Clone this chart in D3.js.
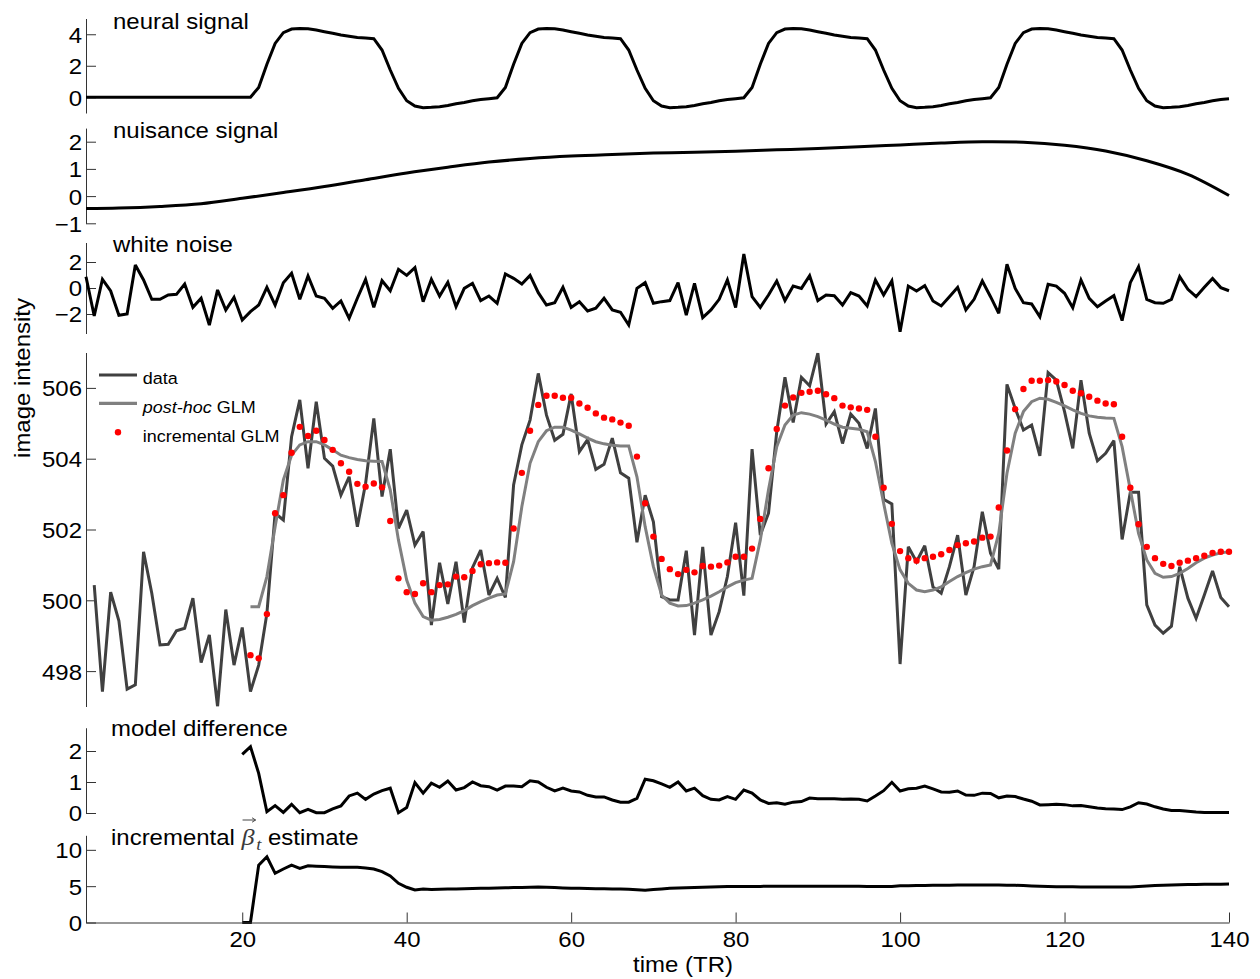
<!DOCTYPE html>
<html>
<head>
<meta charset="utf-8">
<script src="https://cdn.jsdelivr.net/npm/d3@7"></script>
<style>
  html, body { margin: 0; padding: 0; background: #fff; }
  svg { display: block; }
</style>
</head>
<body>
<svg id="fig" width="1260" height="979"></svg>
<script>
// ---------------- data (time in TR) ----------------
const neuralT = d3.range(1, 141);
const neural = [
  0,0,0,0,0,0,0,0,0,0, 0,0,0,0,0,0,0,0,0,0,
  0,0.62,2.1,3.42,4.1,4.33,4.37,4.35,4.27,4.16, 4.06,3.95,3.87,3.8,3.76,3.72,3.0,1.73,0.57,-0.22,
  -0.56,-0.66,-0.64,-0.6,-0.52,-0.41,-0.33,-0.22,-0.14,-0.09,
  -0.03,0.62,2.1,3.42,4.1,4.33,4.37,4.35,4.27,4.16, 4.06,3.95,3.87,3.8,3.76,3.72,3.0,1.73,0.57,-0.22,
  -0.56,-0.66,-0.64,-0.6,-0.52,-0.41,-0.33,-0.22,-0.14,-0.09,
  -0.03,0.62,2.1,3.42,4.1,4.33,4.37,4.35,4.27,4.16, 4.06,3.95,3.87,3.8,3.76,3.72,3.0,1.73,0.57,-0.22,
  -0.56,-0.66,-0.64,-0.6,-0.52,-0.41,-0.33,-0.22,-0.14,-0.09,
  -0.03,0.62,2.1,3.42,4.1,4.33,4.37,4.35,4.27,4.16, 4.06,3.95,3.87,3.8,3.76,3.72,3.0,1.73,0.57,-0.22,
  -0.56,-0.66,-0.64,-0.6,-0.52,-0.41,-0.33,-0.22,-0.14,-0.09
];

const nuisanceT = [1,5,10,15,20,25,30,35,40,45,50,55,60,65,70,75,80,85,90,95,100,105,110,115,120,125,130,135,140];
const nuisance = [-0.46,-0.44,-0.38,-0.28,-0.08,0.13,0.35,0.6,0.85,1.06,1.25,1.38,1.47,1.53,1.58,1.61,1.65,1.7,1.75,1.81,1.88,1.95,2.0,1.98,1.87,1.66,1.3,0.8,0.02];

const noiseT = d3.range(1, 141);
const noise = [
  0.87,-2.15,0.67,-0.23,-2.1,-2.0,1.77,0.62,-0.87,-0.87,
  -0.54,-0.49,0.31,-1.49,-0.79,-2.85,-0.15,-1.69,-0.72,-2.46,
  -1.82,-1.31,0.05,-1.31,0.41,1.13,-0.87,0.92,-0.62,-0.79,
  -1.56,-1.0,-2.33,-0.79,0.67,-1.49,0.56,-0.21,1.44,0.97,
  1.56,-1.05,0.67,-0.62,0.44,-1.44,-0.03,0.36,-0.97,-0.62,
  -1.18,1.08,0.74,0.31,0.97,-0.36,-1.31,-1.13,0.05,-1.49,
  -1.05,-1.77,-1.56,-0.79,-1.69,-1.87,-2.85,-0.03,0.41,-1.18,
  -1.05,-0.97,0.41,-2.08,0.36,-2.28,-1.69,-0.87,0.62,-1.51,
  2.62,-0.67,-1.49,-0.54,0.54,-0.97,0.15,-0.03,0.95,-0.97,
  -0.54,-0.59,-1.31,-0.36,-0.62,-1.38,0.62,-0.54,0.54,-3.36,
  0.15,-0.23,0.18,-1.0,-1.38,-0.67,0.05,-1.69,-0.87,0.54,
  -0.67,-1.95,1.82,-0.03,-1.13,-1.23,-2.21,0.28,0.15,-0.41,
  -1.51,0.62,-0.79,-1.44,-1.0,-0.59,-2.51,0.41,1.64,-0.87,
  -1.13,-1.18,-0.87,0.87,-0.10,-0.67,0.05,0.74,0.03,-0.21
];

const dataT = d3.range(2, 141);
const dataSeries = [
  500.43,497.42,500.23,499.42,497.49,497.61,501.37,500.2,498.74,498.76,
  499.14,499.21,500.06,498.24,499.02,497.0,499.74,498.17,499.23,497.42,
  498.17,499.63,502.46,502.27,504.62,505.66,503.73,505.61,504.01,503.79,
  502.97,503.49,502.08,503.3,505.14,502.93,504.27,502.03,502.55,501.56,
  501.94,499.3,501.06,499.9,501.09,499.37,500.92,501.42,500.15,500.62,
  500.08,503.26,504.39,505.09,506.41,505.23,504.52,504.69,505.83,504.2,
  504.54,503.7,503.84,504.58,503.6,503.45,501.64,502.97,502.22,500.1,
  500.01,500.01,501.4,499.02,501.51,499.02,499.68,500.67,502.19,500.13,
  504.27,501.84,502.46,504.76,506.3,505.02,506.3,506.06,506.98,504.98,
  505.33,
  504.43,505.26,505.0,504.29,505.42,502.85,502.72,498.2,501.51,501.09,
  501.54,500.38,500.2,500.95,501.84,500.15,500.95,502.5,501.33,500.88,
  506.1,505.42,504.81,504.95,504.08,506.43,506.22,505.33,504.29,506.22,
  504.72,503.94,504.15,504.51,501.72,503.05,503.05,499.87,499.3,499.07,
  499.27,500.95,500.06,499.49,500.15,500.83,500.08,499.82
];

const glmT = d3.range(21, 141);
const postHoc = [
  499.82,499.82,500.67,502.08,503.4,504.1,504.39,504.48,504.48,504.39,
  504.25,504.1,504.03,503.98,503.94,503.93,503.92,503.12,501.7,500.57,
  499.92,499.54,499.44,499.46,499.52,499.6,499.71,499.85,499.96,500.06,
  500.15,500.18,501.09,502.64,503.87,504.48,504.79,504.89,504.89,504.81,
  504.7,504.58,504.48,504.42,504.38,504.36,504.36,503.49,502.08,500.95,
  500.15,499.92,499.84,499.85,499.92,500.01,500.12,500.24,500.38,500.5,
  500.57,500.62,501.7,503.12,504.34,504.95,505.23,505.3,505.26,505.19,
  505.09,504.98,504.89,504.86,504.83,504.76,503.92,502.74,501.61,500.86,
  500.48,500.29,500.24,500.29,500.38,500.53,500.67,500.78,500.88,500.95,
  501.0,501.89,503.59,504.72,505.33,505.61,505.71,505.68,505.59,505.49,
  505.38,505.28,505.21,505.17,505.15,505.14,504.34,503.12,501.89,501.14,
  500.76,500.65,500.67,500.76,500.9,501.06,501.19,501.28,501.34,501.37
];
const incremental = [
  498.45,498.36,499.61,502.46,502.97,504.17,504.9,504.64,504.79,504.53,
  504.25,503.87,503.63,503.29,503.21,503.3,503.19,502.24,500.62,500.23,
  500.18,500.48,500.23,500.43,500.45,500.67,500.65,500.83,501.02,501.05,
  501.07,501.06,502.03,503.6,504.79,505.52,505.78,505.78,505.72,505.72,
  505.56,505.44,505.28,505.16,505.11,505.02,504.93,504.06,502.74,501.8,
  501.17,500.88,500.74,500.86,500.79,500.97,500.95,500.98,501.07,501.23,
  501.23,501.46,502.3,503.73,504.84,505.5,505.73,505.86,505.89,505.92,
  505.82,505.71,505.5,505.45,505.42,505.38,504.62,503.18,502.16,501.39,
  501.19,501.12,501.19,501.23,501.3,501.42,501.56,501.61,501.66,501.77,
  501.8,502.62,504.23,505.4,505.97,506.2,506.2,506.22,506.18,506.08,
  505.92,505.85,505.75,505.64,505.56,505.54,504.62,503.18,502.15,501.51,
  501.19,501.03,500.97,501.06,501.12,501.19,501.26,501.34,501.37,501.37
];

const diffT = d3.range(20, 141);
const modelDiff = [
  1.89,2.14,1.28,0.04,0.24,0.02,0.28,0.01,0.12,0.01,
  0.01,0.13,0.23,0.55,0.64,0.44,0.61,0.72,0.8,0.01,
  0.18,0.98,0.64,0.96,0.83,1.03,0.74,0.82,1.0,0.88,
  0.85,0.74,0.87,0.87,0.85,1.04,1.0,0.83,0.71,0.8,
  0.71,0.68,0.57,0.52,0.52,0.42,0.35,0.35,0.47,1.09,
  1.04,0.94,0.83,1.0,0.71,0.8,0.56,0.44,0.42,0.53,
  0.44,0.74,0.64,0.42,0.31,0.33,0.28,0.35,0.37,0.48,
  0.46,0.46,0.46,0.44,0.45,0.44,0.39,0.55,0.72,0.99,
  0.71,0.78,0.8,0.87,0.78,0.68,0.67,0.71,0.58,0.57,
  0.64,0.63,0.49,0.55,0.53,0.45,0.38,0.26,0.27,0.28,
  0.27,0.23,0.24,0.2,0.16,0.14,0.13,0.11,0.2,0.33,
  0.29,0.2,0.13,0.08,0.08,0.06,0.03,0.02,0.02,0.02,
  0.02
];
const betaEst = [
  0,0,7.9,9.05,6.77,7.36,7.9,7.45,7.8,7.75,
  7.7,7.65,7.6,7.6,7.6,7.5,7.36,7.0,6.4,5.4,
  4.85,4.47,4.6,4.55,4.58,4.6,4.62,4.65,4.68,4.7,
  4.72,4.75,4.78,4.8,4.82,4.86,4.88,4.85,4.8,4.76,
  4.73,4.7,4.68,4.66,4.64,4.62,4.6,4.56,4.5,4.45,
  4.55,4.62,4.7,4.74,4.78,4.82,4.86,4.9,4.92,4.94,
  4.95,4.95,4.96,4.97,4.98,4.98,4.99,5.0,5.0,5.0,
  5.0,5.0,5.0,5.0,4.99,4.98,4.97,4.96,4.95,4.95,
  5.05,5.07,5.08,5.1,5.12,5.13,5.14,5.15,5.16,5.16,
  5.16,5.16,5.15,5.14,5.12,5.08,5.03,4.98,4.95,4.93,
  4.92,4.91,4.9,4.9,4.89,4.88,4.88,4.88,4.9,4.95,
  5.02,5.08,5.12,5.16,5.19,5.22,5.24,5.26,5.27,5.28,
  5.3
];

// tick values
const timeTicks = [20, 40, 60, 80, 100, 120, 140];
const neuralTicks = [0, 2, 4];
const nuisanceTicks = [-1, 0, 1, 2];
const noiseTicks = [-2, 0, 2];
const intensityTicks = [498, 500, 502, 504, 506];
const diffTicks = [0, 1, 2];
const betaTicks = [0, 5, 10];

// ---------------- drawing ----------------
const FONT = '"Liberation Sans", Arial, Helvetica, sans-serif';
const FS = 22;       // base font size
const SX = 1.09;     // horizontal widening of the glyphs
const svg = d3.select("#fig");
svg.append("rect").attr("width", 1260).attr("height", 979).attr("fill", "#fff");

const x = d3.scaleLinear().domain([1, 140]).range([86, 1229]);
const AX = x.range()[0];

function yAxis(y, ticks) {
  const g = svg.append("g").attr("transform", `translate(${AX},0)`)
    .call(d3.axisLeft(y).tickValues(ticks).tickSizeInner(-10).tickSizeOuter(0)
      .tickPadding(4).tickFormat(d3.format("d")));
  g.select(".domain").attr("stroke", "#333").attr("stroke-width", 1);
  g.selectAll(".tick line").attr("stroke", "#333").attr("stroke-width", 1);
  g.selectAll(".tick text")
    .attr("x", 0).attr("dy", "0.36em")
    .attr("transform", `translate(-4,0) scale(${SX},1)`)
    .attr("font-size", FS).attr("font-family", FONT).attr("fill", "#000");
  return g;
}

function title(x0, y0, str) {
  return svg.append("text")
    .attr("transform", `translate(${x0},${y0}) scale(${SX},1)`)
    .attr("font-family", FONT).attr("font-size", FS).attr("fill", "#000")
    .text(str);
}

function pairs(ts, vs) { return ts.map((t, i) => [t, vs[i]]); }

function drawLine(g, y, pts, color, width, curve) {
  const line = d3.line().x(d => x(d[0])).y(d => y(d[1])).curve(curve || d3.curveLinear);
  return g.append("path").datum(pts)
    .attr("d", line).attr("fill", "none")
    .attr("stroke", color).attr("stroke-width", width)
    .attr("stroke-linejoin", "miter").attr("stroke-miterlimit", 3);
}

// neural signal
const yNeural = d3.scaleLinear().domain([-1, 5]).range([113, 18.5]);
yAxis(yNeural, neuralTicks);
drawLine(svg, yNeural, pairs(neuralT, neural), "#000", 3);
title(113, 29, "neural signal");

// nuisance signal
const yNuis = d3.scaleLinear().domain([-1, 2.5]).range([223.3, 128.1]);
yAxis(yNuis, nuisanceTicks);
drawLine(svg, yNuis, pairs(nuisanceT, nuisance), "#000", 3, d3.curveCatmullRom);
title(113, 138, "nuisance signal");

// white noise
const yNoise = d3.scaleLinear().domain([-3.5, 3.5]).range([333.5, 242.5]);
yAxis(yNoise, noiseTicks);
drawLine(svg, yNoise, pairs(noiseT, noise), "#000", 3);
title(113, 252, "white noise");

// image intensity with both model fits
const yInt = d3.scaleLinear().domain([497, 507]).range([706.5, 352.5]);
yAxis(yInt, intensityTicks);
svg.append("clipPath").attr("id", "clipInt").append("rect")
  .attr("x", AX).attr("y", yInt.range()[1])
  .attr("width", x.range()[1] - AX + 4).attr("height", yInt.range()[0] - yInt.range()[1]);
const gInt = svg.append("g").attr("clip-path", "url(#clipInt)");
drawLine(gInt, yInt, pairs(dataT, dataSeries), "#404040", 3);
drawLine(gInt, yInt, pairs(glmT, postHoc), "#808080", 3);
gInt.selectAll("circle.inc").data(pairs(glmT, incremental)).enter()
  .append("circle").attr("class", "inc")
  .attr("cx", d => x(d[0])).attr("cy", d => yInt(d[1])).attr("r", 3.2)
  .attr("fill", "#ff0000");

svg.append("text")
  .attr("transform", `translate(30,378) rotate(-90) scale(${SX},1)`)
  .attr("text-anchor", "middle").attr("font-family", FONT).attr("font-size", FS)
  .attr("fill", "#000").text("image intensity");

// legend
const LFS = 16.5;
const leg = svg.append("g");
const legRows = [
  { kind: "line", color: "#404040", y: 375 },
  { kind: "line", color: "#808080", y: 403.3 },
  { kind: "dot", color: "#ff0000", y: 432.3 }
];
legRows.forEach(r => {
  if (r.kind === "line") {
    leg.append("line").attr("x1", 99).attr("x2", 137).attr("y1", r.y).attr("y2", r.y)
      .attr("stroke", r.color).attr("stroke-width", 3.2);
  } else {
    leg.append("circle").attr("cx", 118).attr("cy", r.y).attr("r", 3.2).attr("fill", r.color);
  }
});
function legText(y0) {
  return leg.append("text").attr("transform", `translate(142.7,${y0}) scale(${SX},1)`)
    .attr("font-family", FONT).attr("font-size", LFS).attr("fill", "#000");
}
legText(384).text("data");
const ph = legText(413);
ph.append("tspan").attr("font-style", "italic").text("post-hoc");
ph.append("tspan").text(" GLM");
legText(441.5).text("incremental GLM");

// model difference
const yDiff = d3.scaleLinear().domain([0, 2.75]).range([813, 727.75]);
yAxis(yDiff, diffTicks);
drawLine(svg, yDiff, pairs(diffT, modelDiff), "#000", 3);
title(111, 736, "model difference");

// incremental beta estimate
const yBeta = d3.scaleLinear().domain([0, 12]).range([922.5, 835.3]);
yAxis(yBeta, betaTicks);
drawLine(svg, yBeta, pairs(diffT, betaEst), "#000", 3);

const bt = title(111, 845, "");
bt.append("tspan").text("incremental ");
bt.append("tspan").attr("font-family", '"Liberation Serif", "Times New Roman", serif')
  .attr("font-style", "italic").attr("font-size", 24).attr("fill", "#3a3a3a").text("β");
bt.append("tspan").attr("font-family", '"Liberation Serif", "Times New Roman", serif')
  .attr("font-style", "italic").attr("font-size", 17).attr("fill", "#3a3a3a")
  .attr("dx", 1.5).attr("dy", 5).text("t");
bt.append("tspan").attr("dy", -5).text(" estimate");
// vector arrow over beta
try {
  const n = bt.node();
  const i = "incremental ".length;
  const s = n.getStartPositionOfChar(i), e = n.getEndPositionOfChar(i);
  const ax0 = 111 + s.x * SX + 1, ax1 = 111 + e.x * SX + 1, ay = 820;
  svg.append("path")
    .attr("d", `M${ax0},${ay}H${ax1}M${ax1 - 3.5},${ay - 2.2}L${ax1},${ay}L${ax1 - 3.5},${ay + 2.2}`)
    .attr("fill", "none").attr("stroke", "#444").attr("stroke-width", 1);
} catch (err) {}

// time axis
const gx = svg.append("g").attr("transform", `translate(0,${yBeta(0)})`)
  .call(d3.axisBottom(x).tickValues(timeTicks).tickSizeInner(-10).tickSizeOuter(0).tickPadding(10));
gx.select(".domain").attr("stroke", "#333").attr("stroke-width", 1);
gx.selectAll(".tick line").attr("stroke", "#333");
gx.selectAll(".tick text").attr("y", 0)
  .attr("transform", `translate(0,9) scale(${SX},1)`)
  .attr("font-size", FS).attr("font-family", FONT).attr("fill", "#000");

svg.append("text")
  .attr("transform", `translate(683,972) scale(${SX},1)`)
  .attr("text-anchor", "middle").attr("font-family", FONT).attr("font-size", FS)
  .attr("fill", "#000").text("time (TR)");
</script>
</body>
</html>
